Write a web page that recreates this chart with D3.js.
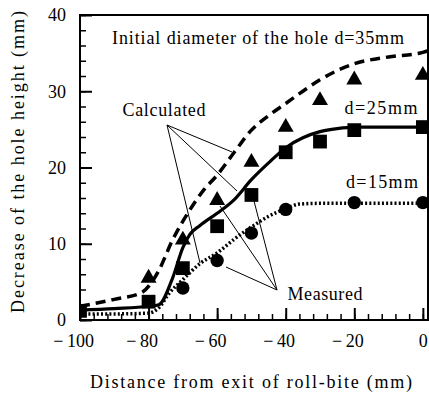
<!DOCTYPE html>
<html><head><meta charset="utf-8">
<script src="https://cdn.jsdelivr.net/npm/d3@7"></script>
<style>
html,body{margin:0;padding:0;background:#fff;}
text{font-family:"Liberation Serif","DejaVu Serif",serif;fill:#000;}
</style></head>
<body>
<svg id="c" width="429" height="394"></svg>
<script>
// ---- data ----
const xTicks = [-100, -80, -60, -40, -20, 0];
const yTicks = [0, 10, 20, 30, 40];
const xMinor = d3.range(-96, 1, 4);
const yMinor = d3.range(0, 41, 2);

// measured points
const measX35 = [-80, -70, -60, -50, -40, -30, -20, 0];
const meas35  = [5.5, 10.5, 15.7, 20.7, 25.3, 28.8, 31.5, 32.1];
const measX25 = [-100, -80, -70, -60, -50, -40, -30, -20, 0];
const meas25  = [1.2, 2.4, 6.8, 12.3, 16.4, 22.0, 23.4, 24.9, 25.3];
const measX15 = [-70, -60, -50, -40, -20, 0];
const meas15  = [4.2, 7.8, 11.4, 14.5, 15.4, 15.4];

// calculated curves
const calcX35 = [-100, -90, -82, -79, -77, -73, -68, -64, -60, -55, -50, -45, -40, -35, -30, -25, -20, -10, 0, 1.5];
const calc35  = [1.8, 2.7, 3.6, 5.0, 6.5, 10.5, 14.4, 17.0, 19.0, 22.0, 24.9, 26.8, 28.4, 30.0, 31.5, 32.7, 33.6, 34.5, 35.1, 35.3];
const calcX25 = [-100, -90, -80, -77, -73, -70, -68, -65, -60, -55, -50, -45, -40, -35, -30, -25, -20, -10, 0, 1.5];
const calc25  = [1.3, 1.5, 1.8, 2.0, 5.5, 9.5, 11.2, 12.4, 14.0, 15.8, 18.4, 20.6, 22.6, 23.9, 24.7, 25.1, 25.3, 25.3, 25.3, 25.3];
const calcX15 = [-100, -90, -80, -77, -74, -70, -65, -60, -55, -50, -45, -40, -36, -30, -20, 0, 1.5];
const calc15  = [0.8, 0.8, 0.9, 1.6, 3.5, 5.3, 7.4, 8.8, 10.6, 12.2, 13.6, 14.6, 15.2, 15.3, 15.3, 15.3, 15.3];

// ---- layout ----
const svg = d3.select("#c");
const L = 80, R = 428, T = 15, B = 320;
const x = d3.scaleLinear().domain([-100, 1.5]).range([L, R]);
const y = d3.scaleLinear().domain([0, 40]).range([B, T]);

svg.append("clipPath").attr("id", "clipL").append("rect")
  .attr("x", L).attr("y", 0).attr("width", 429 - L).attr("height", B);

// curves
const line = d3.line().x(d => x(d[0])).y(d => y(d[1])).curve(d3.curveMonotoneX);
svg.append("path").datum(d3.zip(calcX35, calc35)).attr("d", line)
  .attr("fill", "none").attr("stroke", "#000").attr("stroke-width", 3.5).attr("stroke-dasharray", "10,6");
svg.append("path").datum(d3.zip(calcX25, calc25)).attr("d", line)
  .attr("fill", "none").attr("stroke", "#000").attr("stroke-width", 3.2);
svg.append("path").datum(d3.zip(calcX15, calc15)).attr("d", line)
  .attr("fill", "none").attr("stroke", "#000").attr("stroke-width", 3.5).attr("stroke-dasharray", "2,2.2");

// markers
function markers(xs, vs, type, size) {
  svg.append("g").attr("clip-path", "url(#clipL)").selectAll("path").data(d3.zip(xs, vs)).join("path")
    .attr("transform", d => `translate(${x(d[0])},${y(d[1])})`)
    .attr("d", d3.symbol().type(type).size(size)).attr("fill", "#000");
}
markers(measX35, meas35, d3.symbolTriangle, 110);
markers(measX25, meas25, d3.symbolSquare, 190);
markers(measX15, meas15, d3.symbolCircle, 140);

// frame
svg.append("rect").attr("x", L).attr("y", T).attr("width", R - L).attr("height", B - T)
  .attr("fill", "none").attr("stroke", "#000").attr("stroke-width", 2);

// axes
const axFont = g => g.selectAll("text").style("font-family", '"Liberation Serif",serif').style("font-size", "18px").attr("fill", "#000");
const yAx = svg.append("g").attr("transform", `translate(${L},0)`)
  .call(d3.axisLeft(y).tickValues(yTicks).tickSizeInner(-12).tickSizeOuter(0).tickPadding(14));
yAx.select(".domain").remove();
yAx.selectAll("line").attr("stroke-width", 2);
axFont(yAx);
const yAxm = svg.append("g").attr("transform", `translate(${L},0)`)
  .call(d3.axisLeft(y).tickValues(yMinor).tickSizeInner(-6).tickSizeOuter(0).tickFormat(""));
yAxm.select(".domain").remove();
yAxm.selectAll("line").attr("stroke-width", 1.5);

const fmt = d => d < 0 ? "\u2212\u2009" + Math.abs(d) : "" + d;
const xAx = svg.append("g").attr("transform", `translate(0,${B})`)
  .call(d3.axisBottom(x).tickValues(xTicks).tickSizeInner(-12).tickSizeOuter(0).tickPadding(14).tickFormat(fmt));
xAx.select(".domain").remove();
xAx.selectAll("line").attr("stroke-width", 2);
axFont(xAx);
xAx.selectAll("text").attr("dx", d => d < 0 ? "-7" : "0");
const xAxm = svg.append("g").attr("transform", `translate(0,${B})`)
  .call(d3.axisBottom(x).tickValues(xMinor).tickSizeInner(-6).tickSizeOuter(0).tickFormat(""));
xAxm.select(".domain").remove();
xAxm.selectAll("line").attr("stroke-width", 1.5);

// leader lines
const leaders = [
  [[167,125],[232,152]], [[167,125],[237,191]], [[167,125],[200,263]],
  [[277,290],[226,267]], [[277,290],[220,206]], [[277,290],[254,201]]
];
svg.append("g").selectAll("line").data(leaders).join("line")
  .attr("x1", d => d[0][0]).attr("y1", d => d[0][1]).attr("x2", d => d[1][0]).attr("y2", d => d[1][1])
  .attr("stroke", "#000").attr("stroke-width", 1);

// labels
function label(t, cx, cy, w, size) {
  svg.append("text").attr("x", cx).attr("y", cy).attr("text-anchor", "middle")
    .attr("dominant-baseline", "central").style("font-size", size + "px")
    .attr("textLength", w).attr("lengthAdjust", "spacing").text(t);
}
label("Initial diameter of the hole d=35mm", 258, 38, 292, 18);
label("Calculated", 164, 110, 83, 18);
label("d=25mm", 381, 108, 73, 18);
label("d=15mm", 382, 182, 72, 18);
label("Measured", 325, 294, 75, 18);
label("Distance from exit of roll-bite (mm)", 251, 382, 322, 18);
svg.append("text").attr("transform", "translate(18,162) rotate(-90)")
  .attr("text-anchor", "middle").attr("dominant-baseline", "central").style("font-size", "18px")
  .attr("textLength", 302).attr("lengthAdjust", "spacing")
  .text("Decrease of the hole height (mm)");
</script>
</body></html>
